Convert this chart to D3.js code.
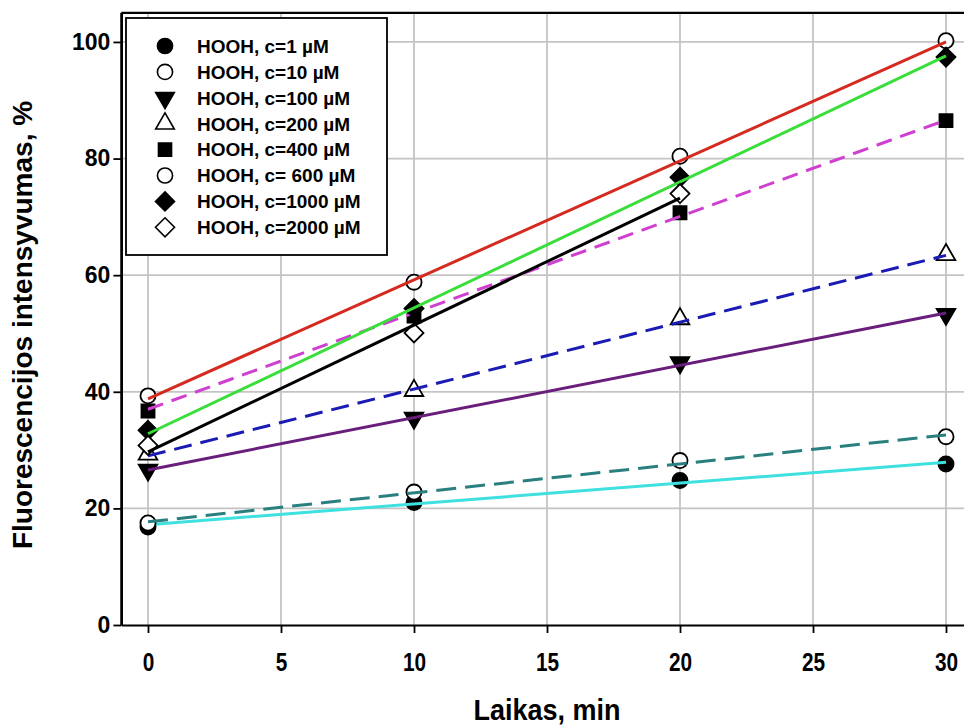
<!DOCTYPE html>
<html><head><meta charset="utf-8">
<script src="https://cdn.jsdelivr.net/npm/d3@7"></script>
<style>body{margin:0;background:#fff}svg{display:block}text{font-family:"Liberation Sans",Arial,sans-serif;font-weight:bold}</style>
</head><body><svg id="c" width="964" height="726"></svg>
<script>
const times = [0, 10, 20, 30];
const seriesNames = ["HOOH, c=1 µM","HOOH, c=10 µM","HOOH, c=100 µM","HOOH, c=200 µM","HOOH, c=400 µM","HOOH, c= 600 µM","HOOH, c=1000 µM","HOOH, c=2000 µM"];
const v1 = [16.8, 21.0, 24.8, 27.6];
const v10 = [17.5, 22.8, 28.2, 32.3];
const v100 = [26.6, 35.5, 45.0, 53.3];
const v200 = [29.3, 40.2, 52.5, 63.5];
const v400 = [36.7, 53.0, 70.7, 86.5];
const v600 = [39.3, 58.8, 80.4, 100.2];
const v1000 = [33.4, 54.3, 76.8, 97.4];
const v2000 = [30.8, 50.1, 74.0];
// fitted line end points [x0, y0, x1, y1]
const fit1 = [0, 17.2, 30, 27.9];
const fit10 = [0, 17.7, 30, 32.6];
const fit100 = [0, 26.6, 30, 53.5];
const fit200 = [0, 29.0, 30, 63.4];
const fit400 = [0, 37.0, 30, 86.6];
const fit600 = [0, 38.8, 30, 100.0];
const fit1000 = [0, 32.8, 30, 97.6];
const fit2000 = [0, 29.7, 20, 73.2];
const xTicks = [0, 5, 10, 15, 20, 25, 30];
const yTicks = [0, 20, 40, 60, 80, 100];

const styles = [
  {sym:"circle", fill:"#000", color:"#3ee0e0", dash:null},
  {sym:"circle", fill:"#fff", color:"#2a7f7f", dash:"20,9"},
  {sym:"tridown", fill:"#000", color:"#6a1e7c", dash:null},
  {sym:"triup", fill:"#fff", color:"#1a1ab4", dash:"18,9"},
  {sym:"square", fill:"#000", color:"#d040d0", dash:"16,9"},
  {sym:"circle", fill:"#fff", color:"#d42a20", dash:null},
  {sym:"diamond", fill:"#000", color:"#3ade3a", dash:null},
  {sym:"diamond", fill:"#fff", color:"#000", dash:null}
];
const values = [v1, v10, v100, v200, v400, v600, v1000, v2000];
const fits = [fit1, fit10, fit100, fit200, fit400, fit600, fit1000, fit2000];

const svg = d3.select("#c");
const x = d3.scaleLinear().domain([-1, 31]).range([121.4, 972.6]);
const y = d3.scaleLinear().domain([0, 105]).range([625, 12.8]);

svg.append("defs").append("clipPath").attr("id","clip")
  .append("rect").attr("x",121).attr("y",0).attr("width",843).attr("height",626);

// grid
const grid = svg.append("g");
grid.selectAll(".gx").data(xTicks).join("line")
  .attr("x1",d=>x(d)).attr("x2",d=>x(d)).attr("y1",y(105)).attr("y2",y(0))
  .attr("stroke","#c4c4c4").attr("stroke-width",1.8);
grid.selectAll(".gy").data(yTicks.filter(d=>d>0)).join("line")
  .attr("x1",x(-1)).attr("x2",964).attr("y1",d=>y(d)).attr("y2",d=>y(d))
  .attr("stroke","#c4c4c4").attr("stroke-width",1.8);

// axes
const xAxis = svg.append("g").attr("transform",`translate(0,${y(0)})`)
  .call(d3.axisBottom(x).tickValues(xTicks).tickSize(8).tickPadding(20).tickSizeOuter(0));
const yAxis = svg.append("g").attr("transform",`translate(${x(-1)},0)`)
  .call(d3.axisLeft(y).tickValues(yTicks).tickSize(8).tickPadding(3).tickSizeOuter(0));
[xAxis, yAxis].forEach(a=>{
  a.select(".domain").attr("stroke","#000").attr("stroke-width",2.2);
  a.selectAll(".tick line").attr("stroke","#000").attr("stroke-width",1.8);
  a.selectAll("text").attr("fill","#000").attr("font-size",null).attr("font-family",null)
    .style("font-family","'Liberation Sans',Arial,sans-serif").style("font-weight","bold");
});
yAxis.selectAll("text").style("font-size","23px");
xAxis.selectAll("text").style("font-size","26px").attr("transform","scale(0.8,1)");
// frame lines
svg.append("line").attr("x1",x(-1)).attr("x2",964).attr("y1",y(105)).attr("y2",y(105)).attr("stroke","#000").attr("stroke-width",2.2);
svg.append("line").attr("x1",x(-1)).attr("x2",x(-1)).attr("y1",y(105)).attr("y2",y(0)).attr("stroke","#000").attr("stroke-width",2.2);

function symPath(sym){
  if (sym === "diamond") return "M0,-9.5L9.5,0L0,9.5L-9.5,0Z";
  const m = {circle:d3.symbolCircle, square:d3.symbolSquare, triup:d3.symbolTriangle, tridown:d3.symbolTriangle};
  const size = {circle:180, square:170, triup:150, tridown:150}[sym];
  return d3.symbol().type(m[sym]).size(size)();
}

const plot = svg.append("g").attr("clip-path","url(#clip)");
values.forEach((vals, i)=>{
  const st = styles[i];
  const pts = vals.map((v,j)=>({t:times[j], v}));
  plot.selectAll(null).data(pts).join("path")
    .attr("d", symPath(st.sym))
    .attr("transform", d=>`translate(${x(d.t)},${y(d.v)})${st.sym==="tridown"?" rotate(180)":""}`)
    .attr("fill", st.fill).attr("stroke","#000").attr("stroke-width",1.8);
  const f = fits[i];
  plot.append("line")
    .attr("x1",x(f[0])).attr("y1",y(f[1])).attr("x2",x(f[2])).attr("y2",y(f[3]))
    .attr("stroke",st.color).attr("stroke-width",3)
    .attr("stroke-dasharray", st.dash);
});

// legend
const lg = svg.append("g");
lg.append("rect").attr("x",126).attr("y",18).attr("width",261).attr("height",237)
  .attr("fill","#fff").attr("stroke","#000").attr("stroke-width",1.8);
seriesNames.forEach((name,i)=>{
  const st = styles[i];
  const cy = 46 + i*25.9;
  lg.append("path").attr("d", symPath(st.sym))
    .attr("transform",`translate(165,${cy})${st.sym==="tridown"?" rotate(180)":""}`)
    .attr("fill", st.fill).attr("stroke","#000").attr("stroke-width",1.6);
  lg.append("text").attr("x",197).attr("y",cy).attr("dy","0.36em")
    .style("font-size","19px").text(name);
});

// titles
svg.append("text").attr("transform",`translate(${x(15)},720) scale(0.9,1)`).attr("text-anchor","middle")
  .style("font-size","30px").text("Laikas, min");
svg.append("text").attr("transform",`translate(32,325) rotate(-90)`).attr("text-anchor","middle")
  .style("font-size","28px").text("Fluorescencijos intensyvumas, %");
</script></body></html>
